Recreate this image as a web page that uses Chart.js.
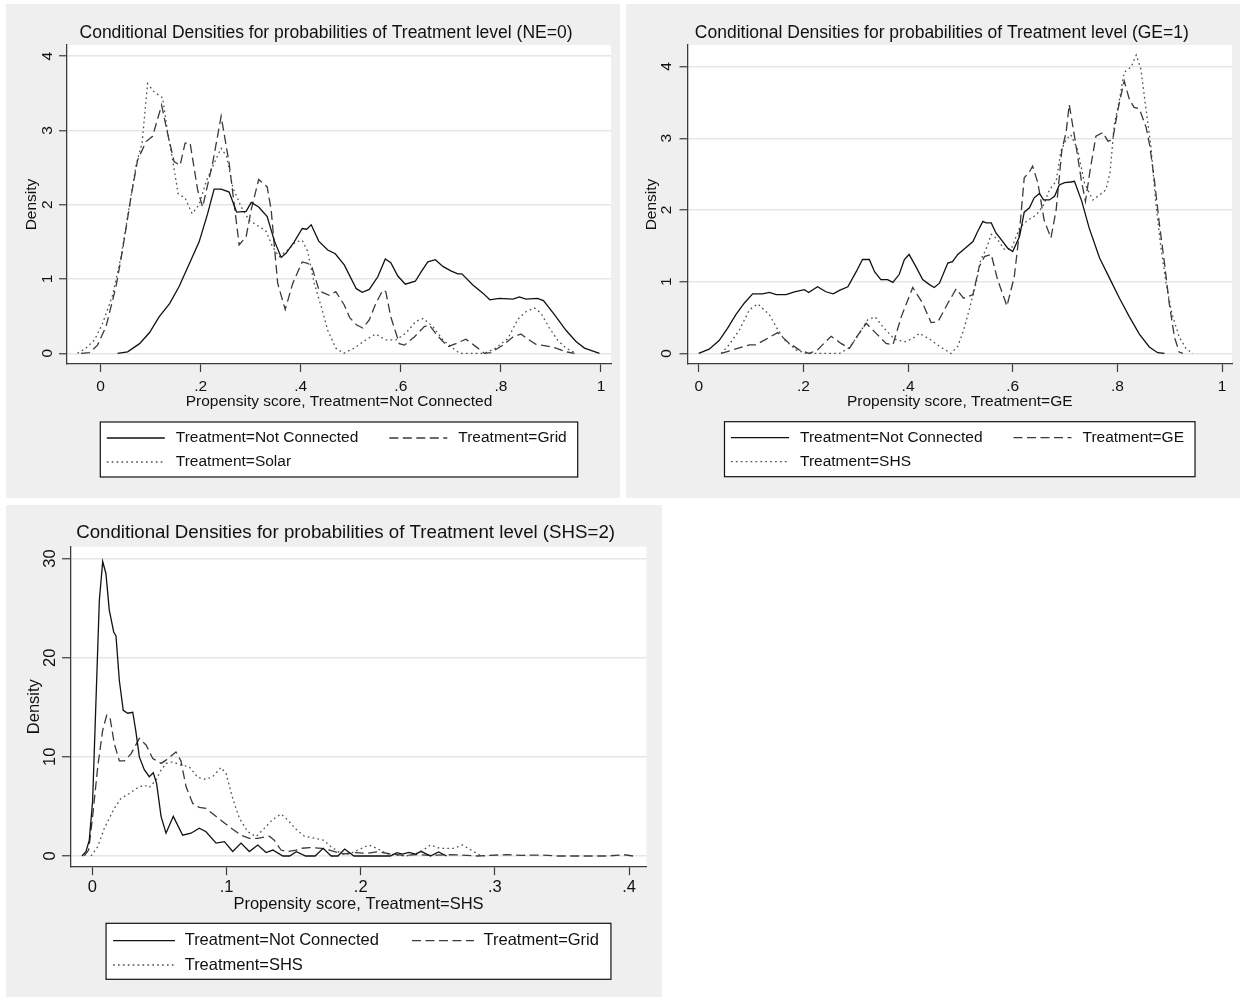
<!DOCTYPE html>
<html>
<head>
<meta charset="utf-8">
<script src="https://cdn.jsdelivr.net/npm/chart.js@4/dist/chart.umd.min.js"></script>
<style>
  html, body { margin: 0; padding: 0; background: #fff; width: 1243px; height: 999px; overflow: hidden; }
  .panel { position: absolute; background: #efefef; }
  canvas { position: absolute; }
</style>
</head>
<body>
<div class="panel" style="left:6px;top:4px;width:614px;height:494px"></div>
<div class="panel" style="left:626px;top:4px;width:614px;height:494px"></div>
<div class="panel" style="left:6px;top:505px;width:656px;height:492px"></div>
<canvas id="ne" width="622" height="500" style="left:0;top:0"></canvas>
<canvas id="ge" width="621" height="500" style="left:622px;top:0"></canvas>
<canvas id="shs" width="665" height="499" style="left:0;top:500px"></canvas>
<script>
// Conditional kernel densities of the propensity score, [score, density]

// Treatment level NE=0
const neNotConnected = [[0.034,0],[0.054,0.02],[0.078,0.13],[0.098,0.28],[0.117,0.49],[0.138,0.67],[0.157,0.90],[0.181,1.26],[0.197,1.50],[0.214,1.88],[0.227,2.21],[0.241,2.21],[0.257,2.17],[0.272,1.90],[0.291,1.91],[0.301,2.03],[0.316,1.97],[0.333,1.84],[0.347,1.52],[0.361,1.29],[0.371,1.35],[0.387,1.50],[0.403,1.68],[0.412,1.67],[0.421,1.73],[0.436,1.51],[0.454,1.39],[0.469,1.34],[0.487,1.19],[0.511,0.87],[0.523,0.82],[0.537,0.86],[0.554,1.03],[0.569,1.27],[0.580,1.22],[0.594,1.04],[0.609,0.93],[0.629,0.97],[0.640,1.09],[0.654,1.23],[0.669,1.26],[0.684,1.17],[0.700,1.11],[0.714,1.07],[0.722,1.07],[0.744,0.92],[0.764,0.81],[0.778,0.72],[0.797,0.74],[0.824,0.73],[0.837,0.76],[0.850,0.73],[0.873,0.74],[0.885,0.71],[0.907,0.52],[0.930,0.31],[0.950,0.16],[0.967,0.07],[0.997,0]];
const neGrid = [[-0.039,0],[-0.022,0.01],[-0.006,0.11],[0.011,0.36],[0.031,0.90],[0.044,1.39],[0.061,2.11],[0.074,2.60],[0.091,2.85],[0.104,2.92],[0.122,3.34],[0.134,2.96],[0.147,2.58],[0.159,2.53],[0.169,2.83],[0.179,2.83],[0.194,2.20],[0.204,1.97],[0.224,2.56],[0.241,3.19],[0.257,2.56],[0.277,1.46],[0.291,1.57],[0.301,1.93],[0.316,2.34],[0.333,2.24],[0.341,1.93],[0.354,0.94],[0.369,0.59],[0.384,0.94],[0.403,1.23],[0.414,1.21],[0.422,1.17],[0.437,0.84],[0.457,0.78],[0.470,0.83],[0.487,0.65],[0.498,0.48],[0.512,0.38],[0.524,0.34],[0.537,0.45],[0.550,0.67],[0.564,0.85],[0.570,0.83],[0.580,0.49],[0.597,0.13],[0.607,0.11],[0.627,0.22],[0.647,0.36],[0.657,0.38],[0.674,0.23],[0.694,0.09],[0.710,0.13],[0.730,0.19],[0.750,0.09],[0.767,0],[0.780,0.01],[0.804,0.11],[0.824,0.22],[0.840,0.26],[0.854,0.19],[0.870,0.12],[0.890,0.10],[0.910,0.07],[0.930,0.02],[0.947,0]];
const neSolar = [[-0.046,0],[-0.029,0.07],[-0.012,0.18],[0.004,0.40],[0.024,0.78],[0.041,1.30],[0.058,2.00],[0.071,2.53],[0.083,2.83],[0.094,3.63],[0.107,3.52],[0.124,3.44],[0.134,2.98],[0.144,2.60],[0.155,2.15],[0.169,2.09],[0.183,1.88],[0.197,2.00],[0.211,2.31],[0.227,2.56],[0.241,2.76],[0.252,2.65],[0.264,2.24],[0.281,1.97],[0.297,1.79],[0.316,1.71],[0.331,1.64],[0.344,1.43],[0.357,1.30],[0.374,1.39],[0.390,1.50],[0.403,1.52],[0.414,1.37],[0.427,0.94],[0.441,0.63],[0.454,0.31],[0.470,0.07],[0.486,0],[0.507,0.07],[0.530,0.18],[0.550,0.26],[0.570,0.18],[0.590,0.18],[0.610,0.27],[0.630,0.43],[0.645,0.47],[0.664,0.36],[0.684,0.18],[0.704,0.07],[0.717,0],[0.767,0],[0.790,0.07],[0.814,0.20],[0.834,0.46],[0.850,0.56],[0.867,0.61],[0.880,0.54],[0.897,0.34],[0.913,0.18],[0.930,0.07],[0.950,0]];

// Treatment level GE=1
const geNotConnected = [[0,0],[0.020,0.06],[0.039,0.18],[0.055,0.35],[0.071,0.54],[0.087,0.70],[0.103,0.83],[0.122,0.83],[0.135,0.85],[0.148,0.82],[0.167,0.82],[0.183,0.86],[0.202,0.89],[0.210,0.85],[0.227,0.93],[0.243,0.86],[0.257,0.83],[0.269,0.88],[0.285,0.93],[0.301,1.14],[0.313,1.31],[0.326,1.31],[0.336,1.14],[0.348,1.03],[0.361,1.03],[0.371,0.99],[0.383,1.10],[0.393,1.31],[0.402,1.38],[0.415,1.21],[0.428,1.03],[0.441,0.96],[0.450,0.92],[0.460,0.98],[0.476,1.26],[0.485,1.28],[0.495,1.38],[0.508,1.46],[0.524,1.56],[0.533,1.70],[0.543,1.84],[0.549,1.82],[0.559,1.82],[0.568,1.68],[0.581,1.56],[0.590,1.47],[0.600,1.42],[0.613,1.63],[0.622,1.97],[0.632,2.03],[0.641,2.17],[0.651,2.23],[0.659,2.14],[0.670,2.14],[0.680,2.19],[0.689,2.35],[0.699,2.38],[0.711,2.39],[0.718,2.40],[0.732,2.12],[0.746,1.75],[0.766,1.33],[0.785,1.05],[0.804,0.77],[0.823,0.51],[0.842,0.27],[0.861,0.09],[0.877,0.01],[0.890,0]];
const geGE = [[0.043,0],[0.065,0.05],[0.097,0.12],[0.109,0.12],[0.129,0.20],[0.151,0.29],[0.170,0.16],[0.192,0.05],[0.211,0],[0.227,0.05],[0.253,0.24],[0.272,0.14],[0.288,0.07],[0.301,0.22],[0.320,0.42],[0.339,0.28],[0.358,0.14],[0.371,0.12],[0.387,0.51],[0.409,0.92],[0.428,0.70],[0.444,0.43],[0.457,0.44],[0.476,0.70],[0.492,0.90],[0.506,0.77],[0.524,0.82],[0.536,1.21],[0.546,1.35],[0.559,1.38],[0.571,1.03],[0.589,0.66],[0.603,1.07],[0.613,1.70],[0.622,2.45],[0.631,2.52],[0.638,2.61],[0.648,2.38],[0.660,1.86],[0.673,1.61],[0.683,2.00],[0.694,2.84],[0.702,3.08],[0.708,3.47],[0.720,2.94],[0.731,2.42],[0.739,2.12],[0.748,2.56],[0.759,3.03],[0.772,3.08],[0.782,2.96],[0.791,2.98],[0.801,3.40],[0.813,3.80],[0.823,3.54],[0.832,3.43],[0.842,3.41],[0.855,3.15],[0.862,2.89],[0.871,2.40],[0.880,1.82],[0.890,1.26],[0.899,0.70],[0.909,0.23],[0.918,0.02],[0.925,0]];
const geSHS = [[0.043,0],[0.058,0.12],[0.078,0.33],[0.097,0.61],[0.113,0.69],[0.135,0.54],[0.148,0.37],[0.164,0.19],[0.186,0.05],[0.205,0],[0.269,0],[0.288,0.08],[0.307,0.28],[0.323,0.47],[0.337,0.51],[0.352,0.37],[0.374,0.20],[0.393,0.16],[0.409,0.21],[0.422,0.28],[0.441,0.20],[0.460,0.10],[0.482,0],[0.495,0.10],[0.505,0.30],[0.517,0.61],[0.530,0.98],[0.539,1.31],[0.549,1.45],[0.559,1.66],[0.571,1.59],[0.584,1.45],[0.597,1.45],[0.613,1.75],[0.629,1.86],[0.645,1.93],[0.659,2.07],[0.670,2.28],[0.683,2.40],[0.692,2.82],[0.702,2.98],[0.711,3.05],[0.724,2.84],[0.737,2.38],[0.753,2.14],[0.766,2.21],[0.778,2.28],[0.786,2.52],[0.794,3.19],[0.804,3.54],[0.813,3.92],[0.826,3.99],[0.836,4.16],[0.845,3.96],[0.853,3.50],[0.864,2.89],[0.874,2.05],[0.883,1.49],[0.893,0.98],[0.904,0.56],[0.918,0.23],[0.931,0.07],[0.944,0]];

// Treatment level SHS=2
const shsNotConnected = [[-0.0078,0],[-0.0048,0.44],[-0.0023,1.6],[0.0002,5.6],[0.0027,15.7],[0.0052,25.8],[0.0077,29.7],[0.0101,28.5],[0.0126,24.8],[0.0159,22.6],[0.0176,22.2],[0.0201,17.7],[0.0230,14.7],[0.0263,14.4],[0.0301,14.5],[0.0325,12.5],[0.0350,10.0],[0.0387,8.7],[0.0424,8.0],[0.0454,8.4],[0.0479,7.3],[0.0512,4.0],[0.0549,2.3],[0.0603,4.0],[0.0673,2.1],[0.0735,2.3],[0.0797,2.8],[0.0847,2.45],[0.0922,1.3],[0.0984,1.45],[0.1046,0.45],[0.1108,1.3],[0.1170,0.45],[0.1233,1.1],[0.1295,0.35],[0.1345,0.6],[0.1420,0],[0.1470,0],[0.1520,0.44],[0.1590,0],[0.1660,0],[0.1720,0.77],[0.1780,0],[0.1830,0],[0.1880,0.7],[0.1950,0],[0.2220,0],[0.2270,0.34],[0.2310,0.2],[0.2360,0.37],[0.2410,0.2],[0.2450,0.47],[0.2520,0],[0.2580,0.4],[0.2640,0]];
const shsGrid = [[-0.0060,0],[-0.0028,0.6],[0.0002,3.96],[0.0040,9.0],[0.0077,12.7],[0.0107,14.2],[0.0131,14.0],[0.0163,11.35],[0.0201,9.6],[0.0238,9.6],[0.0288,10.3],[0.0350,11.86],[0.0400,11.2],[0.0450,9.84],[0.0512,9.34],[0.0549,9.67],[0.0623,10.5],[0.0660,9.6],[0.0698,7.0],[0.0748,5.3],[0.0797,4.9],[0.0847,4.8],[0.0909,4.13],[0.0972,3.46],[0.1046,2.69],[0.1108,2.1],[0.1170,1.78],[0.1233,1.78],[0.1319,2.0],[0.1356,1.6],[0.1406,0.6],[0.1456,0.44],[0.1520,0.6],[0.1550,0.77],[0.1620,0.84],[0.1710,0.77],[0.1780,0.54],[0.1870,0.2],[0.1960,0.34],[0.2050,0.27],[0.2130,0.44],[0.2220,0.2],[0.2320,0.07],[0.2420,0.13],[0.2520,0.07],[0.2640,0.13],[0.2740,0.1],[0.2870,0],[0.2960,0.07],[0.3090,0.13],[0.3210,0.07],[0.3340,0.1],[0.3460,0],[0.3710,0],[0.3840,0],[0.3960,0.13],[0.4030,0]];
const shsSHS = [[-0.0010,0],[0.0040,0.94],[0.0089,2.79],[0.0126,3.8],[0.0163,4.8],[0.0213,5.8],[0.0275,6.3],[0.0338,6.9],[0.0387,7.15],[0.0424,6.9],[0.0474,7.66],[0.0512,8.67],[0.0549,9.34],[0.0599,9.5],[0.0660,9.17],[0.0722,9.0],[0.0785,7.93],[0.0847,7.73],[0.0897,8.0],[0.0959,8.93],[0.0996,8.33],[0.1046,5.81],[0.1096,3.8],[0.1158,2.45],[0.1220,1.95],[0.1282,2.79],[0.1345,3.7],[0.1406,4.23],[0.1456,3.63],[0.1518,2.69],[0.1580,2.0],[0.1660,1.78],[0.1720,1.61],[0.1780,0.94],[0.1850,0.27],[0.1910,0.2],[0.1980,0.6],[0.2060,1.11],[0.2120,0.77],[0.2190,0.27],[0.2270,0.07],[0.2340,0],[0.2440,0.34],[0.2520,1.11],[0.2590,0.77],[0.2690,0.77],[0.2760,1.11],[0.2830,0.54],[0.2890,0.07],[0.2930,0]];

// Axis ticks
const ticksScore = [0, 0.2, 0.4, 0.6, 0.8, 1];
const ticksScoreSHS = [0, 0.1, 0.2, 0.3, 0.4];
const ticksDensity = [0, 1, 2, 3, 4];
const ticksDensitySHS = [0, 10, 20, 30];

// Legend entries
const labelsNE = ['Treatment=Not Connected', 'Treatment=Grid', 'Treatment=Solar'];
const labelsGE = ['Treatment=Not Connected', 'Treatment=GE', 'Treatment=SHS'];
const labelsSHS = ['Treatment=Not Connected', 'Treatment=Grid', 'Treatment=SHS'];

const FONT = "'Liberation Sans', Arial, Helvetica, sans-serif";
const INK = '#111111';
const AXIS = '#3c3c3c';
const GRID = '#e6e6e6';
const LINE_STYLES = [
  { color: '#111111', dash: [] },
  { color: '#3a3a3a', dash: [9, 4.5] },
  { color: '#505050', dash: [1.7, 3.2] }
];

// Stata-style numbers: .2 rather than 0.2
const fmt = v => {
  if (v === 0) return '0';
  return String(Math.round(v * 1000) / 1000).replace(/^0\./, '.').replace(/^-0\./, '-.');
};

// white plot region
const plotBg = {
  id: 'plotBg',
  beforeDraw(chart) {
    const a = chart.chartArea, ctx = chart.ctx;
    ctx.save();
    ctx.fillStyle = '#ffffff';
    ctx.fillRect(a.left, a.top, a.right - a.left, a.bottom - a.top);
    ctx.restore();
  }
};

const panelTitle = {
  id: 'panelTitle',
  afterDraw(chart, args, o) {
    const ctx = chart.ctx;
    ctx.save();
    ctx.font = o.size + 'px ' + FONT;
    ctx.fillStyle = INK;
    ctx.textAlign = 'center';
    ctx.textBaseline = 'middle';
    ctx.fillText(o.text, o.x, o.y);
    ctx.restore();
  }
};

// framed two-column legend under the axis title
const boxLegend = {
  id: 'boxLegend',
  afterDraw(chart, args, o) {
    const ctx = chart.ctx;
    const sets = chart.data.datasets;
    ctx.save();
    ctx.font = o.size + 'px ' + FONT;
    const w = sets.map(d => ctx.measureText(d.label).width);
    const w1 = Math.max(w[0], w[2] || 0);
    const w2 = w[1];
    const boxW = o.padL + o.sample + o.gap + w1 + o.colGap + o.sample + o.gap + w2 + o.padR;
    const a = chart.chartArea;
    const left = (a.left + a.right) / 2 - boxW / 2;
    ctx.fillStyle = '#ffffff';
    ctx.fillRect(left, o.top, boxW, o.height);
    ctx.lineWidth = 1.2;
    ctx.strokeStyle = '#111111';
    ctx.strokeRect(left, o.top, boxW, o.height);
    sets.forEach((d, i) => {
      const col = i % 2, row = Math.floor(i / 2);
      const x0 = left + o.padL + (col ? o.sample + o.gap + w1 + o.colGap : 0);
      const y = o.top + o.rows[row];
      ctx.beginPath();
      ctx.setLineDash(d.borderDash || []);
      ctx.strokeStyle = d.borderColor;
      ctx.lineWidth = d.borderWidth;
      ctx.moveTo(x0, y);
      ctx.lineTo(x0 + o.sample, y);
      ctx.stroke();
      ctx.setLineDash([]);
      ctx.fillStyle = INK;
      ctx.textAlign = 'left';
      ctx.textBaseline = 'middle';
      ctx.fillText(d.label, x0 + o.sample + o.gap, y);
    });
    ctx.restore();
  }
};

function densityChart(id, p) {
  const canvas = document.getElementById(id);
  const W = canvas.width, H = canvas.height;
  const font = { family: FONT, size: p.fs };
  return new Chart(canvas, {
    type: 'line',
    data: {
      datasets: p.series.map((s, i) => ({
        label: p.labels[i],
        data: s.map(([x, y]) => ({ x, y })),
        borderColor: LINE_STYLES[i].color,
        borderDash: LINE_STYLES[i].dash,
        borderWidth: 1.3,
        pointRadius: 0,
        tension: 0,
        fill: false
      }))
    },
    options: {
      responsive: false,
      animation: false,
      events: [],
      layout: { padding: { top: p.area.top, right: W - p.area.right, left: 0, bottom: 0 } },
      plugins: {
        legend: { display: false },
        tooltip: { enabled: false },
        title: { display: false },
        panelTitle: { text: p.title, x: p.titleX, y: p.titleY, size: p.titleSize },
        boxLegend: Object.assign({ size: p.fs }, p.legend)
      },
      scales: {
        x: {
          type: 'linear',
          min: p.xRange[0], max: p.xRange[1],
          afterBuildTicks: s => { s.ticks = p.xTicks.map(v => ({ value: v })); },
          afterFit: s => { s.height = H - p.area.bottom; },
          ticks: { callback: fmt, font, color: INK, padding: p.xTickPad, maxRotation: 0, autoSkip: false },
          grid: { drawOnChartArea: false, drawTicks: true, tickLength: p.tick, tickColor: AXIS, tickWidth: 1.2 },
          border: { display: true, color: AXIS, width: 1.3 },
          title: { display: true, text: p.xTitle, font, color: INK, padding: { top: 0, bottom: p.xTitlePad } }
        },
        y: {
          type: 'linear',
          min: p.yRange[0], max: p.yRange[1],
          afterBuildTicks: s => { s.ticks = p.yTicks.map(v => ({ value: v })); },
          afterFit: s => { s.width = p.area.left; },
          ticks: { callback: fmt, font, color: INK, padding: p.yTickPad, minRotation: 90, maxRotation: 90, crossAlign: 'center', autoSkip: false },
          grid: { color: GRID, lineWidth: 1.5, drawTicks: true, tickLength: p.tick, tickColor: AXIS, tickWidth: 1.2 },
          border: { display: true, color: AXIS, width: 1.3 },
          title: { display: true, text: 'Density', font, color: INK, padding: { top: p.yTitlePad, bottom: 0 } }
        }
      }
    },
    plugins: [plotBg, panelTitle, boxLegend]
  });
}

const legendSmall = { padL: 6.5, sample: 58, gap: 11, colGap: 31, padR: 11, height: 55, rows: [16, 40] };

densityChart('ne', {
  series: [neNotConnected, neGrid, neSolar],
  labels: labelsNE,
  title: 'Conditional Densities for probabilities of Treatment level (NE=0)',
  titleX: 326, titleY: 33.3, titleSize: 17.5, fs: 15.5, tick: 8,
  area: { left: 67, top: 45, right: 611, bottom: 364 },
  xRange: [-0.067, 1.02], yRange: [-0.144, 4.15],
  xTicks: ticksScore, yTicks: ticksDensity,
  xTitle: 'Propensity score, Treatment=Not Connected',
  xTickPad: 5.4, xTitlePad: 89, yTickPad: 6.5, yTitlePad: 22.3,
  legend: Object.assign({ top: 422 }, legendSmall)
});

densityChart('ge', {
  series: [geNotConnected, geGE, geSHS],
  labels: labelsGE,
  title: 'Conditional Densities for probabilities of Treatment level (GE=1)',
  titleX: 319.8, titleY: 33.3, titleSize: 17.5, fs: 15.5, tick: 8,
  area: { left: 65.5, top: 45, right: 610, bottom: 364 },
  xRange: [-0.0214, 1.019], yRange: [-0.147, 4.30],
  xTicks: ticksScore, yTicks: ticksDensity,
  xTitle: 'Propensity score, Treatment=GE',
  xTickPad: 5.4, xTitlePad: 89, yTickPad: 8, yTitlePad: 20.5,
  legend: Object.assign({ top: 421.7 }, legendSmall)
});

densityChart('shs', {
  series: [shsNotConnected, shsGrid, shsSHS],
  labels: labelsSHS,
  title: 'Conditional Densities for probabilities of Treatment level (SHS=2)',
  titleX: 345.6, titleY: 33.3, titleSize: 18.7, fs: 16.5, tick: 8.5,
  area: { left: 70.5, top: 46.7, right: 646.5, bottom: 366.7 },
  xRange: [-0.0163, 0.413], yRange: [-1.08, 31.2],
  xTicks: ticksScoreSHS, yTicks: ticksDensitySHS,
  xTitle: 'Propensity score, Treatment=SHS',
  xTickPad: 2.5, xTitlePad: 85.1, yTickPad: 2.8, yTitlePad: 24.1,
  legend: { top: 423.3, padL: 7, sample: 62, gap: 9.6, colGap: 33, padR: 12, height: 56, rows: [17.4, 41.7] }
});
</script>
</body>
</html>
